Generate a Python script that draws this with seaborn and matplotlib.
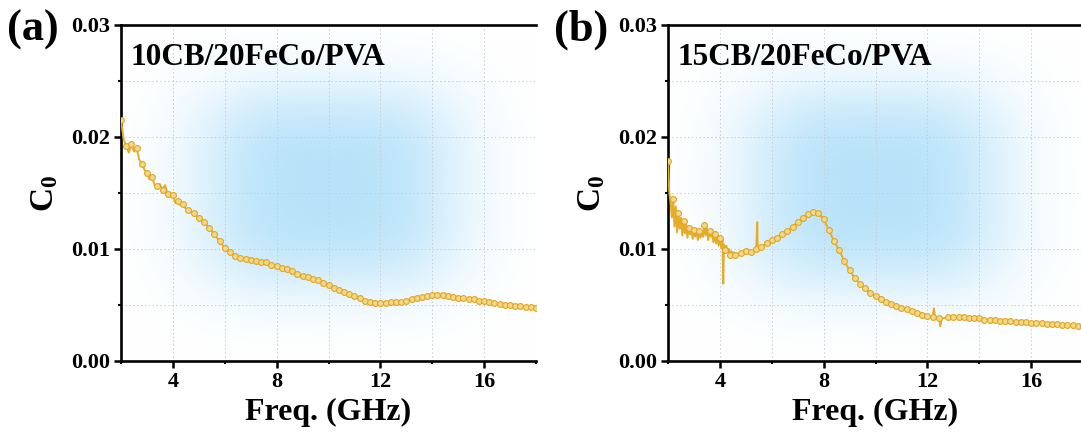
import numpy as np
import pandas as pd
import seaborn as sns
import matplotlib.pyplot as plt
from matplotlib.ticker import MultipleLocator, FormatStrFormatter

# panel (a) 10CB/20FeCo/PVA
freq_a = [2.0, 2.1, 2.2, 2.3, 2.4, 2.5, 2.6, 2.7, 2.8, 2.9, 3.0, 3.1, 3.2, 3.3, 3.4,
          3.5, 3.6, 3.7, 3.8, 3.9, 4.0, 4.1, 4.2, 4.3, 4.4, 4.5, 4.6,
          4.8, 5.0, 5.2, 5.4, 5.6, 5.8, 6.0, 6.2, 6.4, 6.6, 6.8, 7.0, 7.2, 7.4, 7.6,
          7.8, 8.0, 8.2, 8.4, 8.6, 8.8, 9.0, 9.2, 9.4, 9.6, 9.8, 10.0, 10.2, 10.4,
          10.6, 10.8, 11.0, 11.2, 11.4, 11.6, 11.8, 12.0, 12.2, 12.4, 12.6, 12.8,
          13.0, 13.2, 13.4, 13.6, 13.8, 14.0, 14.2, 14.4, 14.6, 14.8, 15.0, 15.2,
          15.4, 15.6, 15.8, 16.0, 16.2, 16.4, 16.6, 16.8, 17.0, 17.2, 17.4, 17.6,
          17.8, 18.0]
c0_a = [0.0215, 0.0198, 0.0192, 0.0186, 0.0194, 0.0187, 0.0190, 0.0180, 0.0176, 0.0171,
        0.0168, 0.0162, 0.0164, 0.0157, 0.0156, 0.0158, 0.0153, 0.0157, 0.0149, 0.0147,
        0.0148, 0.0141, 0.0143, 0.0139, 0.0140, 0.0136, 0.0135,
        0.0132, 0.0128, 0.0124, 0.0119, 0.0113, 0.0107, 0.0101, 0.0097, 0.0094, 0.0092,
        0.0091, 0.0090, 0.0089, 0.0088, 0.0088, 0.0086, 0.0085, 0.0083, 0.0082, 0.0080,
        0.0078, 0.0076, 0.0075, 0.0073, 0.0072, 0.0070, 0.0068, 0.0065, 0.0063, 0.0062,
        0.0060, 0.0058, 0.0056, 0.0054, 0.0053, 0.0052, 0.0052, 0.0052, 0.0053, 0.0053,
        0.0053, 0.0054, 0.0055, 0.0056, 0.0057, 0.0058, 0.0059, 0.0059, 0.0059, 0.0058,
        0.0057, 0.0056, 0.0056, 0.0055, 0.0055, 0.0054, 0.0054, 0.0053, 0.0052, 0.0051,
        0.0050, 0.0050, 0.0049, 0.0049, 0.0048, 0.0048, 0.0047]

# panel (b) 15CB/20FeCo/PVA
freq_b = [2.00, 2.05, 2.10, 2.15, 2.20, 2.25, 2.30, 2.35, 2.40, 2.45, 2.50, 2.55, 2.60,
          2.65, 2.70, 2.75, 2.80, 2.85, 2.90, 2.95, 3.00, 3.05, 3.10, 3.15, 3.20, 3.25,
          3.30, 3.35, 3.40, 3.45, 3.50, 3.55, 3.60, 3.65, 3.70, 3.75, 3.80, 3.85, 3.90,
          3.95, 4.00, 4.05, 4.10, 4.13, 4.16, 4.20, 4.25, 4.30, 4.35, 4.40, 4.45, 4.50,
          4.55, 4.60, 4.70, 4.80, 4.90, 5.00, 5.10, 5.20, 5.30, 5.40, 5.44, 5.46, 5.60,
          5.80, 6.00, 6.20, 6.40, 6.60, 6.80, 7.00, 7.20, 7.40, 7.60, 7.80, 8.00, 8.20,
          8.40, 8.60, 8.80, 9.00, 9.20, 9.40, 9.60, 9.80, 10.00, 10.20, 10.40, 10.60,
          10.80, 11.00, 11.20, 11.40, 11.60, 11.80, 12.00, 12.20, 12.25, 12.30, 12.45,
          12.50, 12.55, 12.80, 13.0, 13.2, 13.4, 13.6, 13.8, 14.0, 14.2, 14.4, 14.6,
          14.8, 15.0, 15.2, 15.4, 15.6, 15.8, 16.0, 16.2, 16.4, 16.6, 16.8, 17.0, 17.2,
          17.4, 17.6, 17.8, 18.0]
c0_b = [0.0179, 0.0150, 0.0142, 0.0128, 0.0145, 0.0120, 0.0138, 0.0115, 0.0132, 0.0118,
        0.0128, 0.0112, 0.0125, 0.0114, 0.0122, 0.0110, 0.0119, 0.0113, 0.0120, 0.0109,
        0.0117, 0.0111, 0.0118, 0.0108, 0.0116, 0.0110, 0.0115, 0.0111, 0.0121, 0.0112,
        0.0119, 0.0108, 0.0116, 0.0111, 0.0114, 0.0106, 0.0113, 0.0105, 0.0112, 0.0103,
        0.0110, 0.0101, 0.0108, 0.0069, 0.0104, 0.0099, 0.0103, 0.0097, 0.0100, 0.0095,
        0.0098, 0.0094, 0.0097, 0.0095, 0.0096, 0.0096, 0.0097, 0.0098, 0.0097, 0.0097,
        0.0098, 0.0100, 0.0124, 0.0101, 0.0102, 0.0105, 0.0108, 0.0110, 0.0113, 0.0116,
        0.0120, 0.0124, 0.0128, 0.0131, 0.0133, 0.0132, 0.0127, 0.0117, 0.0107, 0.0099,
        0.0089, 0.0081, 0.0074, 0.0069, 0.0065, 0.0061, 0.0058, 0.0055, 0.0053, 0.0051,
        0.0049, 0.0047, 0.0046, 0.0045, 0.0043, 0.0041, 0.0040, 0.0039, 0.0047, 0.0039,
        0.0038, 0.0031, 0.0038, 0.0039, 0.0039, 0.0039, 0.0039, 0.0038, 0.0038, 0.0038,
        0.0037, 0.0037, 0.0037, 0.0036, 0.0036, 0.0036, 0.0035, 0.0035, 0.0035, 0.0034,
        0.0034, 0.0034, 0.0033, 0.0033, 0.0033, 0.0032, 0.0032, 0.0032, 0.0031, 0.0031]

panel_tags = ["(a)", "(b)"]
sample_names = ["10CB/20FeCo/PVA", "15CB/20FeCo/PVA"]

sns.set_theme(style="ticks")
plt.rcParams["font.family"] = ["Liberation Serif", "DejaVu Serif"]
plt.rcParams["font.weight"] = "bold"
plt.rcParams["axes.labelweight"] = "bold"
plt.rcParams["text.color"] = "black"
plt.rcParams["axes.labelcolor"] = "black"
plt.rcParams["xtick.color"] = "black"
plt.rcParams["ytick.color"] = "black"
plt.rcParams["mathtext.fontset"] = "custom"
plt.rcParams["mathtext.rm"] = "Liberation Serif:bold"
plt.rcParams["mathtext.bf"] = "Liberation Serif:bold"
plt.rcParams["mathtext.it"] = "Liberation Serif:italic:bold"

fig = plt.figure(figsize=(10.81, 4.41), dpi=100)
fig.patch.set_facecolor("white")

# soft blue glow behind the plot area
gx = np.linspace(2, 18, 300)
gy = np.linspace(0, 0.03, 200)
GX, GY = np.meshgrid(gx, gy)
glow = np.exp(-(np.abs(GX - 10.0) / 5.2) ** 3.2) * np.exp(-(np.abs(GY - 0.0155) / 0.0095) ** 3.2)
glow = 0.92 * glow
rgba = np.ones((200, 300, 4))
blue = np.array([178, 224, 249]) / 255.0
for k in range(3):
    rgba[..., k] = 1 - glow * (1 - blue[k])


def marker_idx(f, gap=0.19):
    # roughly evenly spaced beads along the curve
    idx = [0]
    for j in range(1, len(f)):
        if f[j] - f[idx[-1]] >= gap:
            idx.append(j)
    return idx


lefts = [121 / 1081, 668 / 1081]
datasets = [(freq_a, c0_a), (freq_b, c0_b)]

for i, (fx, fy) in enumerate(datasets):
    ax = fig.add_axes([lefts[i], 80 / 441, 415 / 1081, 336 / 441])
    ax.imshow(rgba, extent=[2, 18, 0, 0.03], origin="lower", aspect="auto", zorder=0)
    df = pd.DataFrame({"freq": fx, "c0": fy})
    sns.lineplot(data=df, x="freq", y="c0", ax=ax, sort=False, estimator=None,
                 color="#E5AC2C", lw=1.4, marker="o", markersize=4.2,
                 markerfacecolor="#F4D886", markeredgecolor="#E0A626",
                 markeredgewidth=0.8, markevery=marker_idx(fx), zorder=3)
    ax.set_xlim(2, 18)
    ax.set_ylim(0, 0.03)
    ax.xaxis.set_major_locator(MultipleLocator(4))
    ax.xaxis.set_minor_locator(MultipleLocator(2))
    ax.yaxis.set_major_locator(MultipleLocator(0.01))
    ax.yaxis.set_minor_locator(MultipleLocator(0.005))
    ax.yaxis.set_major_formatter(FormatStrFormatter("%.2f"))
    ax.set_axisbelow(True)
    ax.grid(which="both", ls=(0, (1.5, 2.5)), color="#c9ccd2", lw=0.7)
    ax.tick_params(which="major", direction="out", length=5, width=1.8,
                   labelsize=16, pad=3)
    ax.tick_params(which="minor", direction="out", length=2.5, width=1.5)
    ax.tick_params(top=False, right=False, which="both")
    for s in ["left", "bottom", "top"]:
        ax.spines[s].set_linewidth(1.9)
        ax.spines[s].set_color("black")
    ax.spines["right"].set_visible(False)
    ax.set_xlabel("Freq. (GHz)", fontsize=23, labelpad=4)
    ax.set_ylabel(r"$\mathbf{C}_\mathbf{0}$", fontsize=24, labelpad=8)
    ax.text(0.022, 0.945, sample_names[i], transform=ax.transAxes, fontsize=22.5,
            fontweight="bold", va="top", ha="left", zorder=4)
    fig.text(lefts[i] - 114 / 1081, 1 - 30 / 441, panel_tags[i], fontsize=32,
             fontweight="bold", va="center", ha="left")

fig.savefig("out.png", dpi=100)
